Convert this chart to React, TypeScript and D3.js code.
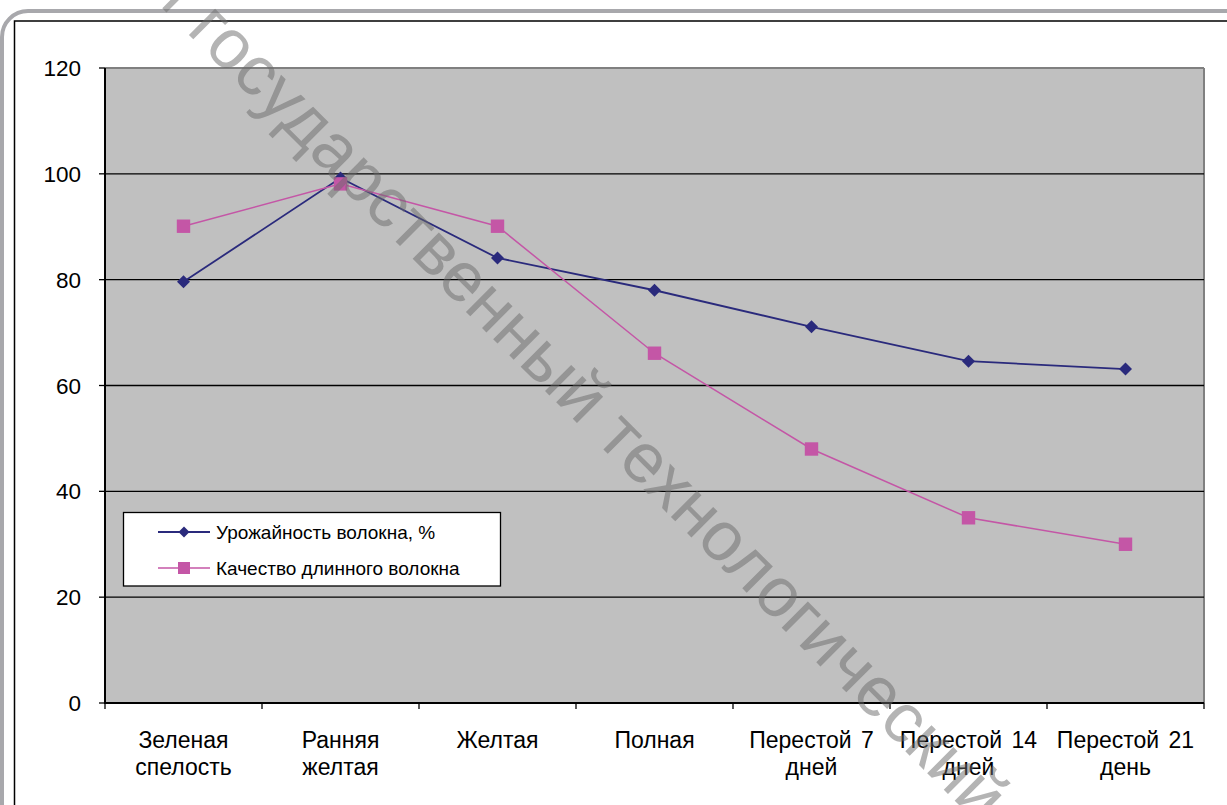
import React, { useEffect } from "react";
import * as d3 from "d3";

const categories: string[][] = [
  ["Зеленая", "спелость"],
  ["Ранняя", "желтая"],
  ["Желтая"],
  ["Полная"],
  ["Перестой 7", "дней"],
  ["Перестой 14", "дней"],
  ["Перестой 21", "день"],
];
const yieldValues = [79.6, 99.2, 84.1, 78, 71.1, 64.6, 63.1];
const qualityValues = [90.1, 98.1, 90.1, 66.1, 48, 35, 30];
const yTicks = [0, 20, 40, 60, 80, 100, 120];
const seriesNames = ["Урожайность волокна, %", "Качество длинного волокна"];
const watermarkHead = "й";
const watermarkBody = "государственный технологический";

const W = 1227;
const H = 805;
const FONT = "'Liberation Sans', Arial, sans-serif";
const NAVY = "#2a2a7c";
const PINK = "#c456a6";

export default function App() {
  useEffect(() => {
    document.body.style.margin = "0";
    document.body.style.overflow = "hidden";
  }, []);

  const left = 105, right = 1204, top = 68, bottom = 703;
  const x = d3.scaleBand<number>().domain(d3.range(categories.length)).range([left, right]);
  const y = d3.scaleLinear().domain([0, 120]).range([bottom, top]);
  const cx = (i: number) => (x(i) as number) + x.bandwidth() / 2;
  const line = d3.line<number>().x((_, i) => cx(i)).y((d) => y(d));
  const boundaries = d3.range(categories.length + 1).map((i) => left + i * x.bandwidth());

  const diamond = (px: number, py: number, r: number) =>
    `M${px},${py - r}L${px + r},${py}L${px},${py + r}L${px - r},${py}Z`;

  const legX = 123.5, legY = 512.5, legW = 377, legH = 73.5;
  const rows = [532, 568];

  return (
    <svg width={W} height={H} style={{ position: "absolute", left: 0, top: 0, background: "#fff" }} fontFamily={FONT}>
      {/* outer frames */}
      <rect x={2} y={11} width={W + 40} height={H + 40} rx={26} fill="none" stroke="#a8a8ac" strokeWidth={4} />
      <rect x={14.5} y={21} width={W + 40} height={H + 40} fill="none" stroke="#000" strokeWidth={1.5} />

      {/* plot area */}
      <rect x={left} y={top} width={right - left} height={bottom - top} fill="#c0c0c0" />
      <line x1={left} x2={right} y1={top} y2={top} stroke="#808080" strokeWidth={2} />
      <line x1={right} x2={right} y1={top} y2={bottom} stroke="#808080" strokeWidth={2} />
      {yTicks.filter((t) => t > 0 && t < 120).map((t) => (
        <line key={t} x1={left} x2={right} y1={y(t)} y2={y(t)} stroke="#000" strokeWidth={1.3} />
      ))}
      <line x1={left} x2={left} y1={top} y2={bottom + 1} stroke="#000" strokeWidth={2} />
      <line x1={left} x2={right} y1={bottom} y2={bottom} stroke="#000" strokeWidth={2} />

      {/* y ticks and labels */}
      {yTicks.map((t) => (
        <g key={t}>
          <line x1={left - 6} x2={left} y1={y(t)} y2={y(t)} stroke="#000" strokeWidth={1.3} />
          <text x={81} y={y(t)} dy="0.36em" textAnchor="end" fontSize={22.5} fill="#000">{t}</text>
        </g>
      ))}

      {/* x ticks and labels */}
      {boundaries.map((b, i) => (
        <line key={i} x1={b} x2={b} y1={bottom} y2={bottom + 6} stroke="#000" strokeWidth={1.3} />
      ))}
      {categories.map((lines, i) => (
        <text key={i} x={cx(i)} textAnchor="middle" fontSize={23} wordSpacing={3} fill="#000">
          {lines.map((l, j) => (
            <tspan key={j} x={cx(i)} y={748 + j * 27}>{l}</tspan>
          ))}
        </text>
      ))}

      {/* series */}
      <path d={line(yieldValues) as string} fill="none" stroke={NAVY} strokeWidth={1.8} />
      {yieldValues.map((v, i) => (
        <path key={i} d={diamond(cx(i), y(v), 6.5)} fill={NAVY} />
      ))}
      <path d={line(qualityValues) as string} fill="none" stroke={PINK} strokeWidth={1.5} />
      {qualityValues.map((v, i) => (
        <rect key={i} x={cx(i) - 6.7} y={y(v) - 6.7} width={13.4} height={13.4} fill={PINK} />
      ))}

      {/* legend */}
      <rect x={legX} y={legY} width={legW} height={legH} fill="#fff" stroke="#000" strokeWidth={1.3} />
      <line x1={158} x2={210} y1={rows[0]} y2={rows[0]} stroke={NAVY} strokeWidth={1.8} />
      <path d={diamond(184, rows[0], 5.5)} fill={NAVY} />
      <line x1={158} x2={210} y1={rows[1]} y2={rows[1]} stroke={PINK} strokeWidth={1.5} />
      <rect x={184 - 6} y={rows[1] - 6} width={12} height={12} fill={PINK} />
      {seriesNames.map((n, i) => (
        <text key={i} x={216} y={rows[i]} dy="0.36em" fontSize={19} fill="#000">{n}</text>
      ))}

      {/* watermark */}
      <g transform="translate(170,16) rotate(45)" fill="#6a6a6a" fillOpacity={0.5} fontSize={70}>
        <text x={0} y={0} textAnchor="end">{watermarkHead}</text>
        <text x={22} y={0}>{watermarkBody}</text>
      </g>
    </svg>
  );
}
